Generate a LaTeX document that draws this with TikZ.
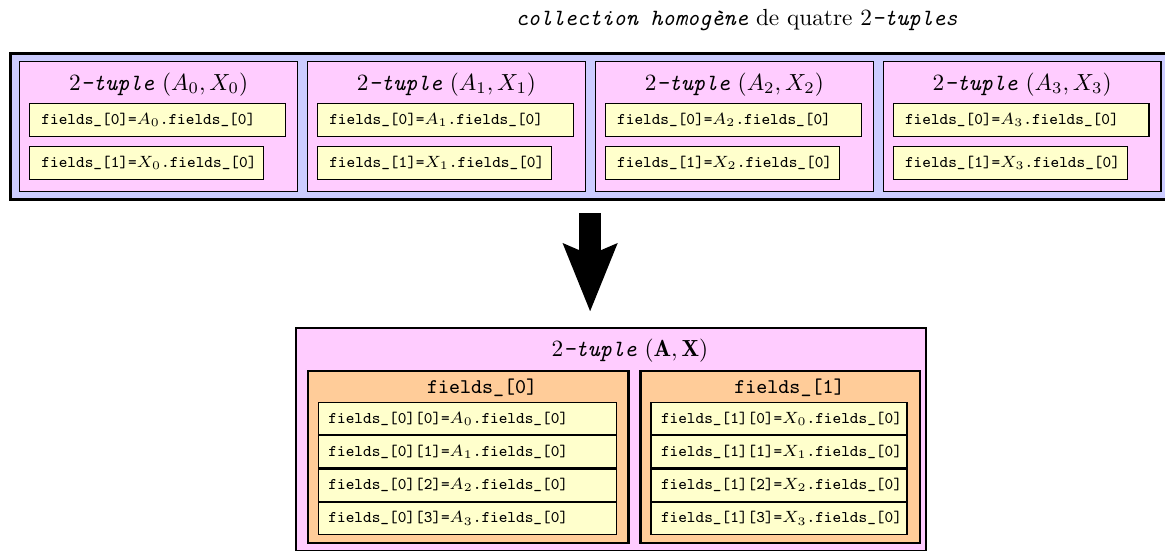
\documentclass[tikz,border=0pt]{standalone}
\usepackage{fontspec}
\usepackage{xcolor}
\definecolor{Ink}{HTML}{000000}
\definecolor{CollFill}{HTML}{CCCCFF}
\definecolor{TupFill}{HTML}{FFCCFF}
\definecolor{FldFill}{HTML}{FFFFCC}
\definecolor{ArrFill}{HTML}{FFCC99}
\usepackage{tikz}
\usetikzlibrary{arrows.meta,positioning,calc}
\newcommand{\tpl}{\texttt{\textit{-tuple}}}
\tikzset{
  collbox/.style={draw=Ink,fill=CollFill,line width=1.3pt,minimum width=176.7mm,
    minimum height=22.1mm,anchor=north west,inner sep=0pt},
  tuplebox/.style={draw=Ink,fill=TupFill,line width=.6pt,minimum width=41.9mm,
    minimum height=19.6mm,anchor=north west,inner sep=0pt},
  fieldbox/.style={draw=Ink,fill=FldFill,line width=.5pt,font=\scriptsize\ttfamily,text width=#1,
    align=left,inner xsep=1.8mm,inner ysep=0pt,minimum height=5mm},
  resbox/.style={draw=Ink,fill=TupFill,line width=.7pt,minimum width=95mm,
    minimum height=33.6mm,anchor=north west,inner sep=0pt},
  arrbox/.style={draw=Ink,fill=ArrFill,line width=1pt,minimum height=25.9mm,inner sep=0pt},
  cellbox/.style={draw=Ink,fill=FldFill,line width=.5pt,font=\scriptsize\ttfamily,text width=#1,
    align=left,inner xsep=1.5mm,inner ysep=0pt,minimum height=4.83mm},
  head/.style={font=\normalsize,text=Ink,inner sep=0pt},
  arrhead/.style={font=\small\ttfamily,text=Ink,inner sep=0pt},
  bigarrow/.style={-{Stealth[length=10.1mm,width=7.8mm,inset=1.5mm]},line width=3.3mm,
    draw=Ink,shorten <=1.8mm,shorten >=2.26mm}
}
\begin{document}
\begin{tikzpicture}
\useasboundingbox (0,0) rectangle (175.7mm,-83.24mm);
\node[head] (ttl) at (111.1mm,-3mm) {\texttt{\textit{collection homogène}} de quatre 2\texttt{\textit{-tuples}}};
\node[collbox] (coll) at (1.3mm,-7.8mm) {};
\node[tuplebox] (t0) at (2.87mm,-9.2mm) {};
\node[tuplebox,right=1.3mm of t0] (t1) {};
\node[tuplebox,right=1.3mm of t1] (t2) {};
\node[tuplebox,right=1.3mm of t2] (t3) {};
\node[head] (h0) at ([yshift=-3.5mm]t0.north) {2\tpl{} $(A_0,X_0)$};
\node[head] (h1) at ([yshift=-3.5mm]t1.north) {2\tpl{} $(A_1,X_1)$};
\node[head] (h2) at ([yshift=-3.5mm]t2.north) {2\tpl{} $(A_2,X_2)$};
\node[head] (h3) at ([yshift=-3.5mm]t3.north) {2\tpl{} $(A_3,X_3)$};
\node[fieldbox=35mm,below right=6.3mm and 1.5mm of t0.north west] (f00) {fields\_[0]=$A_0$.fields\_[0]};
\node[fieldbox=31.7mm,below right=12.8mm and 1.5mm of t0.north west] (f01) {fields\_[1]=$X_0$.fields\_[0]};
\node[fieldbox=35mm,below right=6.3mm and 1.5mm of t1.north west] (f10) {fields\_[0]=$A_1$.fields\_[0]};
\node[fieldbox=31.7mm,below right=12.8mm and 1.5mm of t1.north west] (f11) {fields\_[1]=$X_1$.fields\_[0]};
\node[fieldbox=35mm,below right=6.3mm and 1.5mm of t2.north west] (f20) {fields\_[0]=$A_2$.fields\_[0]};
\node[fieldbox=31.7mm,below right=12.8mm and 1.5mm of t2.north west] (f21) {fields\_[1]=$X_2$.fields\_[0]};
\node[fieldbox=35mm,below right=6.3mm and 1.5mm of t3.north west] (f30) {fields\_[0]=$A_3$.fields\_[0]};
\node[fieldbox=31.7mm,below right=12.8mm and 1.5mm of t3.north west] (f31) {fields\_[1]=$X_3$.fields\_[0]};
\node[resbox] (res) at (44.49mm,-49.31mm) {};
\node[head] (hres) at (95mm,-52.9mm) {2\tpl{} $(\mathbf{A},\mathbf{X})$};
\node[arrbox,minimum width=48.3mm,below right=6.5mm and 1.8mm of res.north west] (a0) {};
\node[arrbox,minimum width=42.1mm,right=1.5mm of a0] (a1) {};
\node[arrhead] (ha0) at ([xshift=2.1mm,yshift=-2.7mm]a0.north) {fields\_[0]};
\node[arrhead] (ha1) at ([xshift=1.4mm,yshift=-2.7mm]a1.north) {fields\_[1]};
\node[cellbox=41.9mm,below right=4.83mm and 1.66mm of a0.north west] (c00) {fields\_[0][0]=$A_0$.fields\_[0]};
\node[cellbox=41.9mm,below=0pt of c00] (c01) {fields\_[0][1]=$A_1$.fields\_[0]};
\node[cellbox=41.9mm,below=0pt of c01] (c02) {fields\_[0][2]=$A_2$.fields\_[0]};
\node[cellbox=41.9mm,below=0pt of c02] (c03) {fields\_[0][3]=$A_3$.fields\_[0]};
\node[cellbox=35.6mm,below right=4.83mm and 1.66mm of a1.north west] (c10) {fields\_[1][0]=$X_0$.fields\_[0]};
\node[cellbox=35.6mm,below=0pt of c10] (c11) {fields\_[1][1]=$X_1$.fields\_[0]};
\node[cellbox=35.6mm,below=0pt of c11] (c12) {fields\_[1][2]=$X_2$.fields\_[0]};
\node[cellbox=35.6mm,below=0pt of c12] (c13) {fields\_[1][3]=$X_3$.fields\_[0]};
\coordinate (ax) at (89mm,0);
\draw[bigarrow] (coll.south -| ax) -- (res.north -| ax);
\end{tikzpicture}
\end{document}
